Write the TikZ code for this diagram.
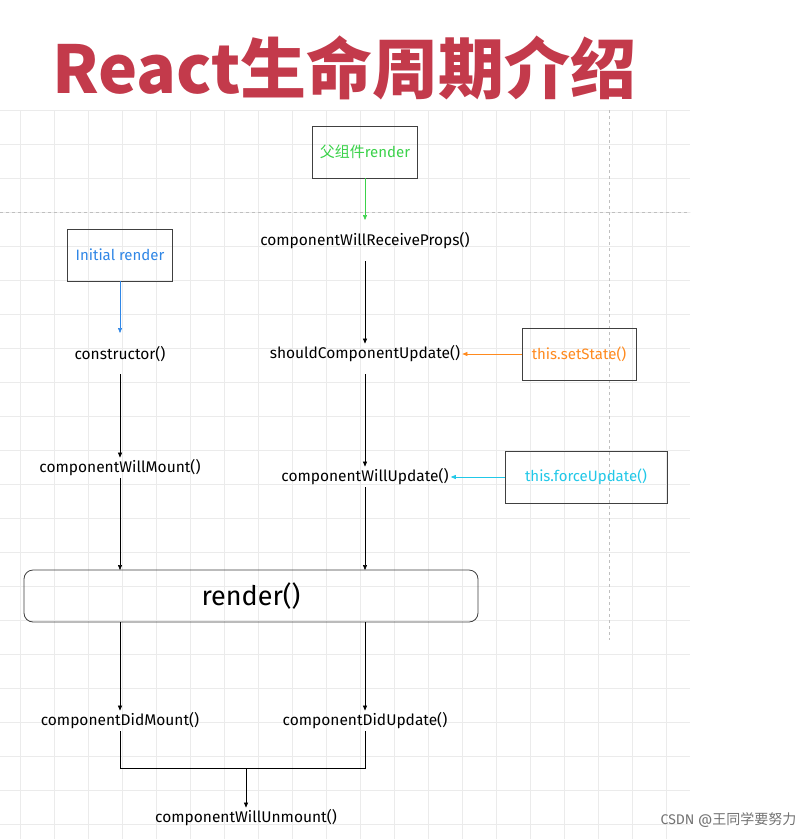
\documentclass[tikz,border=0pt]{standalone}
\usepackage{fontspec}
\setmainfont{Fira Sans}
\newfontfamily\cjk{Noto Sans CJK SC}
\usetikzlibrary{arrows.meta}
\definecolor{titlered}{HTML}{C33A4B}
\definecolor{gridc}{HTML}{EBEBEB}
\definecolor{mgreen}{HTML}{3BD24A}
\definecolor{mblue}{HTML}{2F86E6}
\definecolor{morange}{HTML}{FF8A1E}
\definecolor{mcyan}{HTML}{21C8E8}
\begin{document}
\begin{tikzpicture}[x=1pt,y=-1pt,
  lbl/.style={font=\fontsize{15.5}{17}\selectfont,inner sep=2pt},
  box/.style={draw=black!75,line width=0.8pt,font=\fontsize{15}{17}\selectfont,minimum height=52pt,inner sep=1pt},
  arr/.style={-{Triangle[length=5pt,width=4pt]},line width=0.6pt}]
\useasboundingbox (0,0) rectangle (804,839);
\fill[white] (0,0) rectangle (804,839);
% grid
\foreach \x in {20,54,...,690} \draw[gridc,line width=0.5pt] (\x,110) -- (\x,839);
\foreach \y in {110,144,...,839} \draw[gridc,line width=0.5pt] (0,\y) -- (690,\y);
\draw[black!25,dashed,line width=0.6pt] (0,212) -- (690,212);
\draw[black!25,dashed,line width=0.6pt] (609,110) -- (609,640);
% title
\node[font=\cjk\bfseries\fontsize{66}{70}\selectfont,text=titlered,anchor=west,inner sep=0pt] (title) at (52,68) {React生命周期介绍};
% nodes
\node[box,minimum width=105pt,text=mgreen] (parent) at (365,152) {{\cjk 父组件}render};
\node[box,minimum width=105pt,text=mblue] (init) at (120,255) {Initial render};
\node[lbl] (wrp) at (365,241) {componentWillReceiveProps()};
\node[lbl] (ctor) at (120,354) {constructor()};
\node[lbl] (scu) at (365,354) {shouldComponentUpdate()};
\node[box,minimum width=114pt,text=morange] (set) at (579,354) {this.setState()};
\node[lbl] (cwm) at (120,468) {componentWillMount()};
\node[lbl] (cwu) at (365,477) {componentWillUpdate()};
\node[box,minimum width=162pt,text=mcyan] (force) at (586,477) {this.forceUpdate()};
\node[draw=black!75,line width=0.8pt,rounded corners=9pt,minimum width=454pt,minimum height=52pt,font=\fontsize{27}{30}\selectfont] (render) at (251,596) {render()};
\node[lbl] (cdm) at (120,721) {componentDidMount()};
\node[lbl] (cdu) at (365,721) {componentDidUpdate()};
\node[lbl] (cwun) at (246,818) {componentWillUnmount()};
\coordinate (jl) at (120,768);
\coordinate (jr) at (365,768);
\coordinate (jm) at (246,768);
% connectors
\draw[arr,mgreen] (parent.south) -- (365,220);
\draw[arr,mblue] (init.south) -- (120,333);
\draw[arr] (365,261) -- (scu.north);
\draw[arr] (120,374) -- (cwm.north);
\draw[arr] (365,374) -- (cwu.north);
\draw[arr,morange] (set.west) -- (scu.east);
\draw[arr,mcyan] (force.west) -- (cwu.east);
\draw[arr] (cwm.south) -- (120,570);
\draw[arr] (cwu.south) -- (365,570);
\draw[arr] (120,622) -- (cdm.north);
\draw[arr] (365,622) -- (cdu.north);
\draw[line width=0.6pt] (cdm.south) -- (jl) -- (jr) -- (cdu.south);
\draw[arr] (jm) -- (cwun.north);
\node[font=\fontsize{14}{16}\selectfont,text=black!55,anchor=east] (wm) at (800,820) {CSDN @{\cjk 王同学要努力}};
\end{tikzpicture}
\end{document}
